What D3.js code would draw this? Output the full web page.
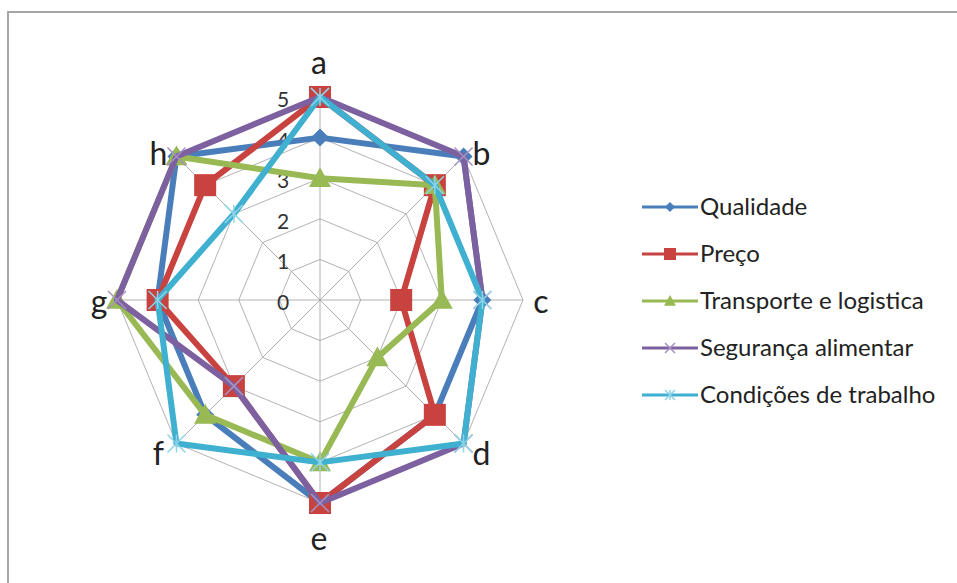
<!DOCTYPE html>
<html>
<head>
<meta charset="utf-8">
<script src="https://cdn.jsdelivr.net/npm/d3@7"></script>
<style>
  html, body { margin: 0; padding: 0; background: #fff; }
  svg { display: block; }
</style>
</head>
<body>
<svg id="chart" width="957" height="583"></svg>
<script>
// Axes of the radar and the scale ticks
const axes = ["a", "b", "c", "d", "e", "f", "g", "h"];
const ticks = [0, 1, 2, 3, 4, 5];

// Series names, in drawing order
const seriesNames = ["Qualidade", "Preço", "Transporte e logistica", "Segurança alimentar", "Condições de trabalho"];

// Scores per axis (a..h)
const qualidade  = [4, 5, 4, 4, 5, 4, 4, 5];
const preco      = [5, 4, 2, 4, 5, 3, 4, 4];
const transporte = [3, 4, 3, 2, 4, 4, 5, 5];
const seguranca  = [5, 5, 4, 5, 5, 3, 5, 5];
const condicoes  = [5, 4, 4, 5, 4, 5, 4, 3];

const seriesValues = [qualidade, preco, transporte, seguranca, condicoes];
const colors = ["#4a7ebb", "#c8423f", "#98b954", "#7d60a0", "#3fb0d0"];
const markers = ["diamond", "square", "triangle", "cross", "asterisk"];

const svg = d3.select("#chart");
const cx = 320, cy = 300, R = 203;
const font = "Lato, 'Open Sans', sans-serif";

// Frame: top and left edges
svg.append("line").attr("x1", 7).attr("y1", 12).attr("x2", 957).attr("y2", 12)
  .attr("stroke", "#a6a6a6").attr("stroke-width", 2);
svg.append("line").attr("x1", 8).attr("y1", 11).attr("x2", 8).attr("y2", 583)
  .attr("stroke", "#a6a6a6").attr("stroke-width", 2);

const r = d3.scaleLinear().domain([0, 5]).range([0, R]);
const angle = d3.scaleBand().domain(axes).range([0, 2 * Math.PI]);

function pt(k, v) {
  const t = angle(k);
  return [cx + r(v) * Math.sin(t), cy - r(v) * Math.cos(t)];
}

const g = svg.append("g");

// Grid rings
ticks.filter(t => t > 0).forEach(t => {
  g.append("path")
    .attr("d", d3.line()(axes.map(k => pt(k, t))) + "Z")
    .attr("fill", "none").attr("stroke", "#a0a0a0").attr("stroke-width", 0.8);
});
// Spokes
axes.forEach(k => {
  const [x, y] = pt(k, 5);
  g.append("line").attr("x1", cx).attr("y1", cy).attr("x2", x).attr("y2", y)
    .attr("stroke", "#a0a0a0").attr("stroke-width", 0.8);
});

// Tick labels along the top spoke
ticks.forEach(t => {
  g.append("text")
    .attr("x", cx - 37).attr("y", cy - r(t) + 10)
    .attr("text-anchor", "middle")
    .attr("font-family", font)
    .attr("font-size", 21).attr("fill", "#333")
    .text(t);
});

// Axis labels, set just outside the outer ring
axes.forEach(k => {
  const t = angle(k);
  const s = Math.sin(t), c = Math.cos(t);
  const [px, py] = pt(k, 5);
  const ox = Math.abs(s) < 0.1 ? -1 : Math.sign(s) * 18;
  const oy = c > 0.9 ? -33 : c < -0.9 ? 37 : c < -0.1 ? 11 : c > 0.1 ? -2 : 3;
  g.append("text")
    .attr("x", px + ox).attr("y", py + oy)
    .attr("dy", "0.32em")
    .attr("text-anchor", "middle")
    .attr("font-family", font)
    .attr("font-size", 32).attr("fill", "#222")
    .text(k);
});

function drawMarker(sel, type, x, y, color, s) {
  if (type === "diamond") {
    sel.append("path").attr("d", `M${x},${y - s}L${x + s},${y}L${x},${y + s}L${x - s},${y}Z`).attr("fill", color);
  } else if (type === "square") {
    sel.append("rect").attr("x", x - s).attr("y", y - s).attr("width", 2 * s).attr("height", 2 * s).attr("fill", color);
  } else if (type === "triangle") {
    sel.append("path").attr("d", `M${x},${y - s}L${x + s},${y + s * 0.8}L${x - s},${y + s * 0.8}Z`).attr("fill", color);
  } else if (type === "cross") {
    sel.append("path").attr("d", `M${x - s},${y - s}L${x + s},${y + s}M${x - s},${y + s}L${x + s},${y - s}`)
      .attr("stroke", "#a592c0").attr("stroke-width", 1.5);
  } else if (type === "asterisk") {
    sel.append("path").attr("d", `M${x - s},${y - s}L${x + s},${y + s}M${x - s},${y + s}L${x + s},${y - s}M${x},${y - s}L${x},${y + s}`)
      .attr("stroke", "#8fd3e8").attr("stroke-width", 1.5);
  }
}

const markerSize = [9, 11, 11, 9, 9];

// Series polygons with markers
seriesValues.forEach((vals, i) => {
  const pts = axes.map((k, j) => pt(k, vals[j]));
  const sg = svg.append("g");
  sg.append("path")
    .attr("d", d3.line()(pts) + "Z")
    .attr("fill", "none").attr("stroke", colors[i]).attr("stroke-width", 6)
    .attr("stroke-linejoin", "round");
  pts.forEach(([x, y]) => drawMarker(sg, markers[i], x, y, colors[i], markerSize[i]));
});

// Legend
const legY = d3.scalePoint().domain(seriesNames).range([207, 395]);
seriesNames.forEach((name, i) => {
  const y = legY(name);
  const lg = svg.append("g");
  lg.append("line").attr("x1", 642).attr("y1", y).attr("x2", 698).attr("y2", y)
    .attr("stroke", colors[i]).attr("stroke-width", 3);
  drawMarker(lg, markers[i], 670, y, colors[i], [5, 6, 6, 5, 5][i]);
  lg.append("text").attr("x", 700).attr("y", y + 8)
    .attr("font-family", font)
    .attr("font-size", 24).attr("fill", "#222")
    .text(name);
});
</script>
</body>
</html>
